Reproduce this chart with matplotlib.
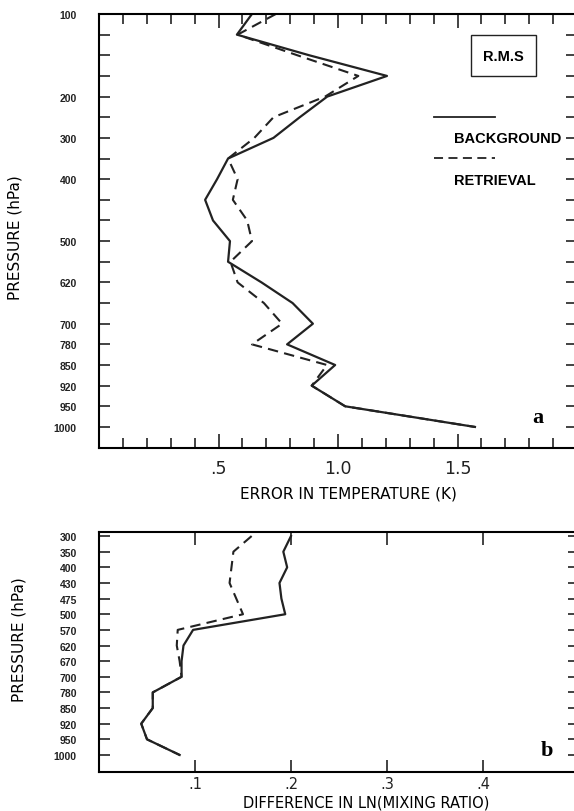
import numpy as np
import matplotlib.pyplot as plt
from matplotlib.patches import Rectangle
from matplotlib.ticker import MultipleLocator

# pressure levels (hPa), plotted at equal spacing
levels_t = [100, 115, 135, 150, 200, 250, 300, 350, 400, 430, 475,
            500, 570, 620, 670, 700, 780, 850, 920, 950, 1000]
labelled_t = [100, 200, 300, 400, 500, 620, 700, 780, 850, 920, 950, 1000]

# (a) rms temperature error (K)
bg_temp = [0.64, 0.577, 0.88, 1.205, 0.955, 0.84, 0.73, 0.54, 0.494, 0.444, 0.477,
           0.548, 0.54, 0.68, 0.81, 0.895, 0.787, 0.988, 0.89, 1.03, 1.573]
ret_temp = [0.74, 0.58, 0.83, 1.085, 0.946, 0.73, 0.65, 0.54, 0.58, 0.56, 0.62,
            0.64, 0.55, 0.58, 0.69, 0.766, 0.64, 0.954, 0.89, 1.03, 1.573]

# (b) rms difference in ln(mixing ratio)
levels_q = [300, 350, 400, 430, 475, 500, 570, 620, 670, 700, 780, 850, 920, 950, 1000]
bg_q = [0.2, 0.192, 0.196, 0.188, 0.19, 0.194, 0.098, 0.088, 0.086, 0.086,
        0.056, 0.056, 0.044, 0.05, 0.084]
ret_q = [0.159, 0.14, 0.138, 0.136, 0.143, 0.15, 0.082, 0.081, 0.084, 0.086,
         0.056, 0.056, 0.044, 0.05, 0.084]

W, H = 574, 812
fig = plt.figure(figsize=(W / 100, H / 100), dpi=100)

def px_axes(x0, y0, x1, y1):
    return fig.add_axes([x0 / W, 1 - y1 / H, (x1 - x0) / W, (y1 - y0) / H])

ax1 = px_axes(99, 15, 577, 449)
ax2 = px_axes(99, 533, 579, 773)

tick_font = dict(family="Liberation Sans", weight="bold", size=7.5)
dash = (0, (5, 3))

for ax in (ax1, ax2):
    for s in ax.spines.values():
        s.set_linewidth(1.5)
    ax.tick_params(which="both", direction="in", top=True, right=True,
                   width=1.2, colors="#222222")

# ---- panel a ----
yt = np.arange(len(levels_t))
ax1.plot(bg_temp, yt, color="#222222", lw=1.6)
ax1.plot(ret_temp, yt, color="#222222", lw=1.5, linestyle=dash)
ax1.set_xlim(0, 2.0)
ax1.set_ylim(len(levels_t) - 1 + 1.02, 0)
ax1.set_yticks(yt)
ax1.set_yticklabels([str(p) if p in labelled_t else "" for p in levels_t], **tick_font)
ax1.tick_params(axis="y", length=8, pad=16)
ax1.set_xticks([0.5, 1.0, 1.5])
ax1.set_xticklabels([".5", "1.0", "1.5"], fontsize=12.5)
ax1.xaxis.set_minor_locator(MultipleLocator(0.1))
ax1.tick_params(axis="x", which="major", length=10, pad=8)
ax1.tick_params(axis="x", which="minor", length=7)
ax1.set_xlabel("ERROR IN TEMPERATURE (K)", fontsize=11)
ax1.xaxis.set_label_coords(0.522, -0.087)
ax1.set_ylabel("PRESSURE (hPa)", fontsize=11)
ax1.yaxis.set_label_coords(-0.159, 0.486)

# legend
ax1.add_patch(Rectangle((0.778, 0.857), 0.136, 0.095, transform=ax1.transAxes,
                        fill=False, lw=1.0, color="#222222"))
ax1.text(0.846, 0.904, "R.M.S", transform=ax1.transAxes, ha="center", va="center",
         family="Liberation Sans", weight="bold", fontsize=10.5)
ax1.plot([0.700, 0.828], [0.763, 0.763], transform=ax1.transAxes,
         color="#222222", lw=1.3)
ax1.text(0.742, 0.714, "BACKGROUND", transform=ax1.transAxes, ha="left", va="center",
         family="Liberation Sans", weight="bold", fontsize=10.5)
ax1.plot([0.700, 0.828], [0.668, 0.668], transform=ax1.transAxes,
         color="#222222", lw=1.3, linestyle=dash)
ax1.text(0.742, 0.618, "RETRIEVAL", transform=ax1.transAxes, ha="left", va="center",
         family="Liberation Sans", weight="bold", fontsize=10.5)
ax1.text(0.918, 0.071, "a", transform=ax1.transAxes, ha="center", va="center",
         family="Liberation Serif", weight="bold", fontsize=16)

# ---- panel b ----
yq = np.arange(len(levels_q))
ax2.plot(bg_q, yq, color="#222222", lw=1.6)
ax2.plot(ret_q, yq, color="#222222", lw=1.5, linestyle=dash)
ax2.set_xlim(0, 0.5)
ax2.set_ylim(len(levels_q) - 1 + 1.09, -0.26)
ax2.set_yticks(yq)
ax2.set_yticklabels([str(p) for p in levels_q], **tick_font)
ax2.tick_params(axis="y", length=8, pad=16)
ax2.set_xticks([0.1, 0.2, 0.3, 0.4])
ax2.set_xticklabels([".1", ".2", ".3", ".4"], fontsize=10.5)
ax2.tick_params(axis="x", length=9, pad=3)
ax2.set_xlabel("DIFFERENCE IN LN(MIXING RATIO)", fontsize=10.5)
ax2.xaxis.set_label_coords(0.557, -0.094)
ax2.set_ylabel("PRESSURE (hPa)", fontsize=11)
ax2.yaxis.set_label_coords(-0.150, 0.554)
ax2.text(0.933, 0.092, "b", transform=ax2.transAxes, ha="center", va="center",
         family="Liberation Serif", weight="bold", fontsize=16)

fig.savefig("out.png", dpi=100)
